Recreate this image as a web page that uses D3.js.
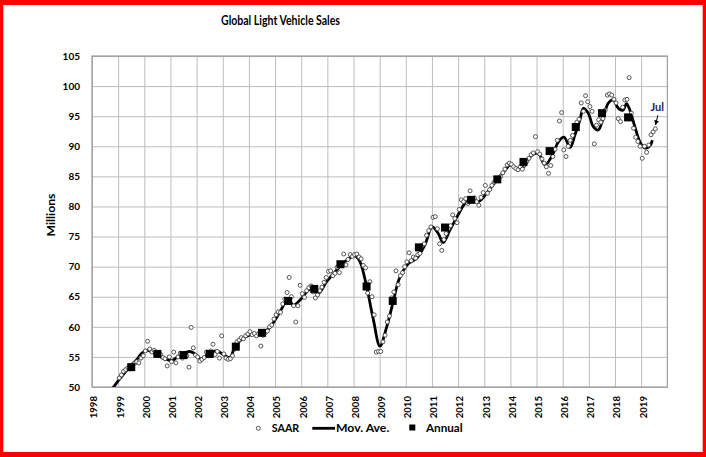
<!DOCTYPE html>
<html><head><meta charset="utf-8">
<script src="https://cdn.jsdelivr.net/npm/d3@7"></script>
<style>
body{margin:0;background:#fff}
svg{display:block}
text{font-family:Lato,"Open Sans",sans-serif;font-weight:bold;fill:#000}
</style>
</head><body>
<svg id="c" width="706" height="457"></svg>
<script>
// ---------- data ----------
const xTicks = [1998,1999,2000,2001,2002,2003,2004,2005,2006,2007,2008,2009,2010,2011,2012,2013,2014,2015,2016,2017,2018,2019];
const yTicks = [50,55,60,65,70,75,80,85,90,95,100,105];

const annualYears  = [1999,2000,2001,2002,2003,2004,2005,2006,2007,2008,2009,2010,2011,2012,2013,2014,2015,2016,2017,2018];
const annualValues = [53.3,55.5,55.3,55.5,56.7,59.0,64.3,66.3,70.4,66.7,64.3,73.2,76.5,81.1,84.5,87.4,89.2,93.2,95.5,94.8];

const saarStartYear = 1999;
const saarValues = [
  51.5,52.0,52.6,52.9,53.2,53.0,53.6,53.9,54.2,54.0,54.8,55.2,
  56.0,57.6,56.3,55.8,56.1,55.7,55.2,55.4,54.9,54.7,53.5,55.0,
  54.2,55.8,54.0,55.0,55.6,54.8,55.5,55.2,53.3,59.9,56.5,55.3,
  55.0,54.3,54.6,54.9,55.8,55.2,56.0,57.1,55.4,55.9,54.8,58.5,
  55.5,54.8,54.6,54.7,55.2,56.3,57.5,57.8,58.2,58.0,58.5,58.8,
  59.2,58.7,58.9,58.5,58.9,56.8,58.6,59.0,59.3,60.0,60.3,61.3,
  62.0,62.5,62.4,63.8,64.6,65.7,68.2,65.0,63.5,60.8,63.5,66.9,
  65.5,64.9,66.0,66.5,66.8,65.8,64.8,65.3,66.0,66.6,67.4,68.2,
  69.2,69.3,68.5,68.9,69.9,69.0,70.5,72.1,70.3,71.2,72.0,71.7,
  72.0,72.1,71.6,71.3,70.2,69.8,65.6,67.5,65.0,62.0,55.8,55.9,
  55.9,57.5,58.6,60.8,61.8,64.8,65.8,69.3,67.0,68.5,69.0,70.0,
  70.8,72.3,71.0,71.6,71.4,72.0,72.2,73.5,73.8,75.2,76.0,76.6,
  78.2,78.3,76.3,73.8,72.7,74.5,75.5,76.3,76.8,78.6,78.0,77.3,
  79.5,81.1,80.8,81.3,80.5,82.6,81.3,81.4,80.8,80.2,81.5,82.3,
  83.5,82.2,82.8,83.5,84.0,84.4,84.7,85.0,85.6,86.2,86.9,87.2,
  87.0,86.6,86.3,86.1,86.6,86.2,86.9,87.5,88.0,88.6,88.9,91.6,
  89.1,88.7,87.9,87.2,86.6,85.5,86.8,88.3,89.5,91.0,94.2,95.6,
  89.4,88.3,90.0,91.0,91.8,93.2,94.0,94.5,97.2,95.8,98.4,97.4,
  96.6,95.8,90.4,93.5,94.4,94.0,94.6,96.0,98.5,98.7,98.5,97.8,
  97.2,94.6,94.1,96.5,97.7,97.8,101.4,95.5,93.0,91.5,90.8,90.0,
  88.0,90.0,89.0,90.2,91.9,92.4,92.9
];

const maPoints = [
  [1998.75,49.6],[1999.0,51.0],[1999.2,52.1],[1999.45,53.4],[1999.7,54.5],[1999.9,55.6],
  [2000.1,56.1],[2000.4,55.6],[2000.73,54.8],[2001.05,54.4],[2001.37,55.3],[2001.75,55.9],
  [2002.0,55.3],[2002.19,54.5],[2002.45,55.6],[2002.77,56.0],[2003.09,55.2],[2003.28,54.95],
  [2003.47,56.7],[2003.72,57.9],[2004.04,58.65],[2004.49,58.9],[2004.8,59.9],[2005.19,62.5],
  [2005.5,64.6],[2005.7,63.6],[2006.02,64.75],[2006.34,66.25],[2006.66,65.6],[2006.97,67.5],
  [2007.36,69.45],[2007.74,71.1],[2008.06,71.8],[2008.25,70.8],[2008.5,66.7],[2008.76,61.2],
  [2009.01,56.8],[2009.27,60.0],[2009.52,64.2],[2009.75,68.0],[2010.1,70.5],[2010.42,71.4],
  [2010.73,73.6],[2011.01,76.6],[2011.24,75.5],[2011.43,74.0],[2011.69,76.1],[2012.0,78.6],
  [2012.26,80.5],[2012.52,81.3],[2012.77,80.8],[2013.09,82.2],[2013.48,84.4],[2013.8,86.0],
  [2013.99,86.9],[2014.24,86.35],[2014.5,86.6],[2014.81,88.5],[2015.07,88.8],[2015.32,86.9],
  [2015.58,88.3],[2015.83,90.7],[2016.05,91.5],[2016.28,89.8],[2016.47,91.9],[2016.66,94.4],
  [2016.79,96.3],[2016.98,95.5],[2017.17,93.25],[2017.36,92.7],[2017.55,94.65],[2017.74,97.15],
  [2017.93,97.7],[2018.13,96.3],[2018.31,96.0],[2018.44,97.1],[2018.57,96.0],[2018.76,93.25],
  [2018.95,90.75],[2019.14,89.7],[2019.33,90.05],[2019.43,91.0]
];

const titleText = "Global Light Vehicle Sales";
const yLabel = "Millions";
const legendLabels = ["SAAR","Mov. Ave.","Annual"];
const noteText = "Jul";

// ---------- layout ----------
const svg = d3.select("#c");
const L = 92, R = 667.3, T = 56, B = 387;
const x = d3.scaleLinear().domain([1998,2020]).range([L,R]);
const y = d3.scaleLinear().domain([50,105]).range([B,T]);

// red frame
svg.append("rect").attr("x",0).attr("y",0).attr("width",706).attr("height",457).attr("fill","#fff");
[[0,0,706,5],[0,0,3.3,457],[702.7,0,3.3,457],[0,452,706,5]].forEach(r=>{
  svg.append("rect").attr("x",r[0]).attr("y",r[1]).attr("width",r[2]).attr("height",r[3]).attr("fill","#ff0000");
});

// title
svg.append("text").attr("x",280.5).attr("y",24.5).attr("text-anchor","middle")
  .attr("font-size",13.5).attr("textLength",119).attr("lengthAdjust","spacingAndGlyphs").text(titleText);

// grid
const gx = svg.append("g").attr("transform",`translate(0,${B})`)
  .call(d3.axisBottom(x).tickValues(xTicks).tickSize(-(B-T)).tickFormat(""));
gx.select(".domain").remove();
gx.selectAll("line").attr("stroke","#bdbdbd").attr("stroke-width",1);
const gy = svg.append("g").attr("transform",`translate(${L},0)`)
  .call(d3.axisLeft(y).tickValues(yTicks).tickSize(-(R-L)).tickFormat(""));
gy.select(".domain").remove();
gy.selectAll("line").attr("stroke","#bdbdbd").attr("stroke-width",1);

// frame of plot
svg.append("rect").attr("x",L).attr("y",T).attr("width",R-L).attr("height",B-T)
  .attr("fill","none").attr("stroke","#8a8a8a").attr("stroke-width",1);

// axes labels
const ax = svg.append("g").attr("transform",`translate(0,${B})`)
  .call(d3.axisBottom(x).tickValues(xTicks).tickSize(0).tickFormat(d3.format("d")));
ax.select(".domain").remove();
ax.attr("font-family",null).attr("font-size",null);
ax.selectAll("text").attr("font-size",9.6).attr("transform","rotate(-90)")
  .attr("text-anchor","end").attr("x",-9).attr("y",1.5).attr("dy","0.35em");

const ay = svg.append("g").attr("transform",`translate(${L},0)`)
  .call(d3.axisLeft(y).tickValues(yTicks).tickSize(0).tickPadding(12));
ay.select(".domain").remove();
ay.attr("font-family",null).attr("font-size",null);
ay.selectAll("text").attr("font-size",10);

svg.append("text").attr("transform","translate(55,215) rotate(-90)").attr("text-anchor","middle")
  .attr("font-size",11.5).attr("textLength",43).attr("lengthAdjust","spacingAndGlyphs").text(yLabel);

// clip
svg.append("clipPath").attr("id","plotclip").append("rect")
  .attr("x",L).attr("y",T).attr("width",R-L).attr("height",B-T);
const plot = svg.append("g").attr("clip-path","url(#plotclip)");

// moving average
plot.append("path").datum(maPoints)
  .attr("d", d3.line().x(d=>x(d[0])).y(d=>y(d[1])).curve(d3.curveCatmullRom.alpha(0.5)))
  .attr("fill","none").attr("stroke","#000").attr("stroke-width",2.8).attr("stroke-linejoin","round");

// SAAR
const saar = saarValues.map((v,i)=>({t: saarStartYear + Math.floor(i/12) + ((i%12)+0.5)/12, v}));
plot.selectAll("circle.saar").data(saar).join("circle").attr("class","saar")
  .attr("cx",d=>x(d.t)).attr("cy",d=>y(d.v)).attr("r",2)
  .attr("fill","#fff").attr("stroke","#444").attr("stroke-width",0.9);

// annual
const sq = 8;
plot.selectAll("rect.ann").data(annualYears.map((yr,i)=>({t:yr+0.5, v:annualValues[i]}))).join("rect")
  .attr("class","ann").attr("x",d=>x(d.t)-sq/2).attr("y",d=>y(d.v)-sq/2)
  .attr("width",sq).attr("height",sq).attr("fill","#000");

// Jul annotation
const last = saar[saar.length-1];
svg.append("text").attr("x",x(last.t)+2).attr("y",y(last.v)-17.5).attr("text-anchor","middle")
  .attr("font-size",11).style("fill","#1c1c5a").text(noteText);
svg.append("defs").append("marker").attr("id","arr").attr("viewBox","0 0 10 10")
  .attr("refX",9).attr("refY",5).attr("markerWidth",5).attr("markerHeight",5).attr("orient","auto")
  .append("path").attr("d","M0,0L10,5L0,10z").attr("fill","#000");
svg.append("line").attr("x1",x(last.t)+2.5).attr("y1",y(last.v)-13.5)
  .attr("x2",x(last.t)+0.3).attr("y2",y(last.v)-4)
  .attr("stroke","#000").attr("stroke-width",1).attr("marker-end","url(#arr)");

// legend
const ly = 428.3;
svg.append("circle").attr("cx",258.3).attr("cy",ly).attr("r",2).attr("fill","#fff").attr("stroke","#444").attr("stroke-width",0.9);
svg.append("text").attr("x",271.7).attr("y",432).attr("font-size",11).attr("textLength",27.6).attr("lengthAdjust","spacingAndGlyphs").text(legendLabels[0]);
svg.append("line").attr("x1",312.3).attr("x2",335).attr("y1",ly).attr("y2",ly).attr("stroke","#000").attr("stroke-width",2.8);
svg.append("text").attr("x",336).attr("y",432).attr("font-size",11).attr("textLength",53.3).attr("lengthAdjust","spacingAndGlyphs").text(legendLabels[1]);
svg.append("rect").attr("x",412.3-3).attr("y",427.5-3).attr("width",6).attr("height",6).attr("fill","#000");
svg.append("text").attr("x",426).attr("y",432).attr("font-size",11).attr("textLength",36.7).attr("lengthAdjust","spacingAndGlyphs").text(legendLabels[2]);
</script>
</body></html>
